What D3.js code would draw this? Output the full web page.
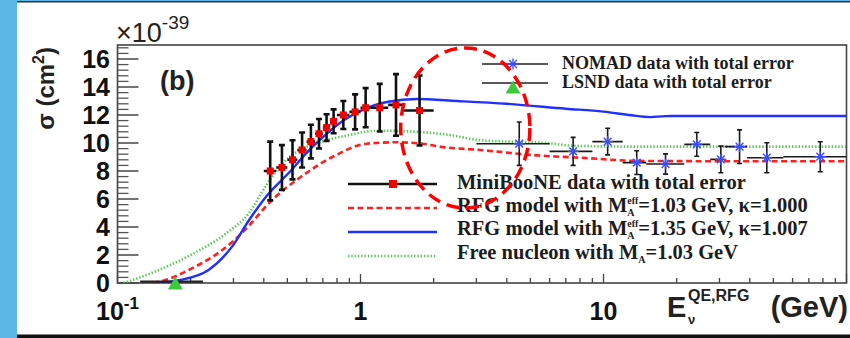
<!DOCTYPE html>
<html>
<head>
<meta charset="utf-8">
<script src="https://cdn.jsdelivr.net/npm/d3@7"></script>
<style>
html, body { margin: 0; padding: 0; background: #fff; }
svg { display: block; }
</style>
</head>
<body>
<div id="chart"></div>
<script>
// cross sections are in units of 1e-39 cm^2, energies in GeV

// MiniBooNE points
const mbEnergy = [0.425, 0.475, 0.525, 0.575, 0.625, 0.675, 0.725, 0.775, 0.85, 0.95, 1.05, 1.2, 1.4, 1.75];
const mbLow    = [0.40, 0.45, 0.50, 0.55, 0.60, 0.65, 0.70, 0.75, 0.80, 0.90, 1.00, 1.10, 1.30, 1.50];
const mbHigh   = [0.45, 0.50, 0.55, 0.60, 0.65, 0.70, 0.75, 0.80, 0.90, 1.00, 1.10, 1.30, 1.50, 2.00];
const mbSigma  = [8.0, 8.25, 8.8, 9.5, 10.1, 10.66, 11.1, 11.55, 12.0, 12.22, 12.52, 12.52, 12.72, 12.32];
const mbError  = [2.1, 1.6, 1.4, 1.25, 1.2, 1.05, 0.95, 0.85, 1.0, 1.25, 1.4, 1.7, 2.2, 2.5];

// NOMAD points
const nomadEnergy = [4.5, 7.5, 10.4, 13.7, 18.0, 24.2, 30.4, 36.3, 47.0, 78.0];
const nomadLow    = [3.0, 6.0, 9.0, 12.0, 15.0, 21.5, 27.5, 31.5, 39.0, 55.0];
const nomadHigh   = [6.0, 9.0, 12.0, 15.0, 21.5, 27.5, 31.5, 39.0, 55.0, 100];
const nomadSigma  = [9.95, 9.4, 10.1, 8.6, 8.5, 9.9, 8.83, 9.74, 8.95, 9.02];
const nomadError  = [1.55, 1.0, 0.95, 0.85, 0.72, 0.85, 0.95, 1.2, 1.07, 1.07];

// LSND point
const lsndEnergy = [0.173];
const lsndLow    = [0.124];
const lsndHigh   = [0.225];
const lsndSigma  = [0.1];

// model curves
const rfg103E = [0.14, 0.16, 0.2, 0.245, 0.3, 0.348, 0.41, 0.45, 0.56, 0.766, 1.06, 1.4, 1.8, 2.12, 3.1, 5.5, 8, 14, 30, 100];
const rfg103S = [0, 0.25, 1.0, 1.85, 3.0, 4.1, 5.5, 6.2, 7.5, 9.0, 9.95, 10.05, 9.95, 9.74, 9.5, 9.1, 8.95, 8.72, 8.7, 8.7];

const rfg135E = [0.145, 0.179, 0.237, 0.296, 0.348, 0.41, 0.52, 0.6, 0.72, 0.85, 1.0, 1.3, 1.7, 2.5, 4, 7, 10, 13, 15.5, 18, 22, 35, 100];
const rfg135S = [0, 0.2, 0.93, 2.6, 4.5, 6.2, 8.07, 9.3, 10.6, 11.6, 12.3, 12.95, 13.14, 13.0, 12.8, 12.45, 12.24, 11.98, 11.85, 11.92, 11.93, 11.93, 11.93];

const freeE = [0.106, 0.148, 0.2, 0.28, 0.348, 0.41, 0.476, 0.55, 0.66, 0.9, 1.16, 1.7, 2.33, 3.1, 6.0, 7.5, 14, 100];
const freeS = [0, 0.93, 2.0, 3.55, 5.0, 7.0, 8.5, 9.4, 9.98, 10.57, 10.88, 10.8, 10.57, 10.2, 9.98, 9.8, 9.74, 9.74];

// axis ticks
const yMajorTicks = [0, 2, 4, 6, 8, 10, 12, 14, 16];
const xLabelTicks = [0.1, 1, 10];

// dashed circle annotation: centre (E, sigma) and extent
const ringCentre = [2.7, 11.07];
const ringE = [1.47, 5.0];
const ringS = [5.36, 16.8];

const width = 850, height = 338;
const sans = "'Liberation Sans', Arial, Helvetica, sans-serif";
const serif = "'Liberation Serif', 'Times New Roman', Times, serif";

const svg = d3.select("#chart").append("svg")
    .attr("width", width)
    .attr("height", height);

// page background (slide)
svg.append("rect").attr("width", width).attr("height", height).attr("fill", "#fff");
svg.append("rect").attr("x", 0).attr("y", 0).attr("width", 17).attr("height", height).attr("fill", "#5db7e6");
svg.append("rect").attr("x", 17).attr("y", 0).attr("width", width - 17).attr("height", 1).attr("fill", "#5db7e6");
svg.append("rect").attr("x", 17).attr("y", 1).attr("width", width - 17).attr("height", 1.5).attr("fill", "#333");
svg.append("rect").attr("x", 17).attr("y", 334.5).attr("width", width - 17).attr("height", 3.5).attr("fill", "#111");

const x = d3.scaleLog().domain([0.1, 100]).range([117.5, 846.5]);
const y = d3.scaleLinear().domain([0, 17]).range([283, 45]);

const plot = svg.append("g");

// clip to frame
svg.append("defs").append("clipPath").attr("id", "frame")
    .append("rect")
    .attr("x", x.range()[0]).attr("y", y.range()[1])
    .attr("width", x.range()[1] - x.range()[0])
    .attr("height", y.range()[0] - y.range()[1]);

// ticks on left axis (pointing inwards)
const yMinor = d3.range(0, 17.01, 0.4).filter(v => Math.abs(v / 2 - Math.round(v / 2)) > 1e-6);
plot.append("g").selectAll("line").data(yMinor).join("line")
    .attr("x1", x.range()[0]).attr("x2", x.range()[0] + 11)
    .attr("y1", d => y(d)).attr("y2", d => y(d))
    .attr("stroke", "#555").attr("stroke-width", 1.3);
plot.append("g").selectAll("line").data(yMajorTicks).join("line")
    .attr("x1", x.range()[0]).attr("x2", x.range()[0] + 21)
    .attr("y1", d => y(d)).attr("y2", d => y(d))
    .attr("stroke", "#444").attr("stroke-width", 1.5);

// ticks on bottom axis
const xTicks = [];
[0.1, 1, 10].forEach(dec => d3.range(1, 10).forEach(m => xTicks.push({ v: dec * m, major: m === 1 })));
xTicks.push({ v: 100, major: true });
plot.append("g").selectAll("line").data(xTicks).join("line")
    .attr("x1", d => x(d.v)).attr("x2", d => x(d.v))
    .attr("y1", y(0)).attr("y2", d => y(0) - (d.major ? 9 : 5))
    .attr("stroke", "#444").attr("stroke-width", 1.3);

// frame
plot.append("rect")
    .attr("x", x.range()[0]).attr("y", y.range()[1])
    .attr("width", x.range()[1] - x.range()[0])
    .attr("height", y.range()[0] - y.range()[1])
    .attr("fill", "none").attr("stroke", "#444").attr("stroke-width", 1.6);

// tick labels
plot.append("g").selectAll("text").data(yMajorTicks).join("text")
    .attr("x", 110).attr("y", d => y(d)).attr("dy", "0.36em")
    .attr("text-anchor", "end")
    .attr("font-family", sans).attr("font-weight", "bold").attr("font-size", 25)
    .attr("fill", "#111")
    .text(d => d);

const xl = plot.append("g").selectAll("text").data(xLabelTicks).join("text")
    .attr("x", d => x(d)).attr("y", 320)
    .attr("text-anchor", "middle")
    .attr("font-family", sans).attr("font-weight", "bold").attr("font-size", 25)
    .attr("fill", "#111");
xl.each(function (d) {
    const t = d3.select(this);
    if (d < 1) {
        t.append("tspan").text("10");
        t.append("tspan").attr("dy", -11).attr("font-size", 17).text("-1");
    } else {
        t.text(d3.format("d")(d));
    }
});

// x10^-39 exponent label
const ex = plot.append("text").attr("x", 116).attr("y", 42)
    .attr("font-family", sans).attr("font-size", 27).attr("fill", "#222");
ex.append("tspan").text("\u00d710");
ex.append("tspan").attr("dy", -13).attr("font-size", 19).text("-39");

// y title
const yt = plot.append("text")
    .attr("transform", "translate(54,47) rotate(-90)")
    .attr("text-anchor", "end")
    .attr("font-family", sans).attr("font-weight", "bold").attr("font-size", 24)
    .attr("fill", "#222");
yt.append("tspan").text("\u03c3 (cm");
yt.append("tspan").attr("dy", -10).attr("font-size", 16).text("2");
yt.append("tspan").attr("dy", 10).text(")");

// x title
const xt = plot.append("g").attr("font-family", sans).attr("font-weight", "bold").attr("fill", "#222");
xt.append("text").attr("x", 667).attr("y", 317).attr("font-size", 29).text("E");
xt.append("text").attr("x", 688).attr("y", 301).attr("font-size", 16).text("QE,RFG");
xt.append("text").attr("x", 688).attr("y", 324).attr("font-size", 13).text("\u03bd");
xt.append("text").attr("x", 848).attr("y", 317).attr("font-size", 29).attr("text-anchor", "end").text("(GeV)");

// (b)
plot.append("text").attr("x", 160).attr("y", 90)
    .attr("font-family", sans).attr("font-weight", "bold").attr("font-size", 27)
    .attr("fill", "#222").text("(b)");

// curves
const curves = plot.append("g").attr("clip-path", "url(#frame)");
const line = d3.line().x(d => x(d[0])).y(d => y(d[1])).curve(d3.curveMonotoneX);
const zip = (a, b) => a.map((v, i) => [v, b[i]]);

curves.append("path").datum(zip(freeE, freeS)).attr("d", line)
    .attr("fill", "none").attr("stroke", "#55c855").attr("stroke-width", 2.6)
    .attr("stroke-dasharray", "1.4 1.9");
curves.append("path").datum(zip(rfg103E, rfg103S)).attr("d", line)
    .attr("fill", "none").attr("stroke", "#ff2020").attr("stroke-width", 2.6)
    .attr("stroke-dasharray", "6 3.5");
curves.append("path").datum(zip(rfg135E, rfg135S)).attr("d", line)
    .attr("fill", "none").attr("stroke", "#2030ff").attr("stroke-width", 2.4);

// helper: error bar with caps
function errorBars(g, E, lo, hi, S, err, style) {
    const data = E.map((e, i) => ({ e, lo: lo[i], hi: hi[i], s: S[i], err: err ? err[i] : 0 }));
    const grp = g.append("g").attr("stroke", style.color).attr("stroke-width", style.width);
    grp.selectAll(".h").data(data).join("line").attr("class", "h")
        .attr("x1", d => x(d.lo)).attr("x2", d => x(d.hi))
        .attr("y1", d => y(d.s)).attr("y2", d => y(d.s));
    if (err) {
        grp.selectAll(".v").data(data).join("line").attr("class", "v")
            .attr("x1", d => x(d.e)).attr("x2", d => x(d.e))
            .attr("y1", d => y(d.s - d.err)).attr("y2", d => y(d.s + d.err));
        grp.selectAll(".ct").data(data).join("line").attr("class", "ct")
            .attr("x1", d => x(d.e) - style.cap).attr("x2", d => x(d.e) + style.cap)
            .attr("y1", d => y(d.s + d.err)).attr("y2", d => y(d.s + d.err));
        grp.selectAll(".cb").data(data).join("line").attr("class", "cb")
            .attr("x1", d => x(d.e) - style.cap).attr("x2", d => x(d.e) + style.cap)
            .attr("y1", d => y(d.s - d.err)).attr("y2", d => y(d.s - d.err));
    }
    return data;
}

function asterisk(g, cx, cy, r, color) {
    const a = g.append("g").attr("stroke", color).attr("stroke-width", 1.4);
    [0, 45, 90, 135].forEach(ang => {
        const rad = ang * Math.PI / 180;
        a.append("line")
            .attr("x1", cx - r * Math.cos(rad)).attr("y1", cy - r * Math.sin(rad))
            .attr("x2", cx + r * Math.cos(rad)).attr("y2", cy + r * Math.sin(rad));
    });
}

function triangle(g, cx, cy, w, h, color) {
    g.append("path")
        .attr("d", `M${cx},${cy - h / 2}L${cx + w / 2},${cy + h / 2}L${cx - w / 2},${cy + h / 2}Z`)
        .attr("fill", color);
}

const marks = plot.append("g").attr("clip-path", "url(#frame)");

// NOMAD
const nd = errorBars(marks, nomadEnergy, nomadLow, nomadHigh, nomadSigma, nomadError, { color: "#1a1a1a", width: 1.6, cap: 2.5 });
nd.forEach(d => asterisk(marks, x(d.e), y(d.s), 5.5, "#3a4cff"));

// LSND
const ld = errorBars(plot, lsndEnergy, lsndLow, lsndHigh, lsndSigma, null, { color: "#222", width: 2.4, cap: 0 });
ld.forEach(d => triangle(plot, x(d.e), y(d.s) + 1.5, 15, 13, "#3ec83e"));

// MiniBooNE
const md = errorBars(marks, mbEnergy, mbLow, mbHigh, mbSigma, mbError, { color: "#111", width: 2.6, cap: 3 });
marks.append("g").selectAll("rect").data(md).join("rect")
    .attr("x", d => x(d.e) - 3.5).attr("y", d => y(d.s) - 3.5)
    .attr("width", 7).attr("height", 7)
    .attr("fill", "#f00000");

// legend text with M_A (optionally M_A^eff) written in one text element
function legendText(g, x0, y0, head, tail, withEff) {
    const t = g.append("text").attr("x", x0).attr("y", y0).attr("font-size", 20.5);
    t.append("tspan").text(head);
    if (!tail) return;
    let ew = 0;
    if (withEff) {
        const e = t.append("tspan").attr("dy", -8).attr("font-size", 10).text("eff");
        ew = e.node().getComputedTextLength();
    }
    const a = t.append("tspan").attr("dx", -ew).attr("dy", withEff ? 11.5 : 3.5)
        .attr("font-size", 10).text("A");
    const aw = a.node().getComputedTextLength();
    t.append("tspan").attr("dx", Math.max(0, ew - aw)).attr("dy", -3.5).text(tail);
}

// upper legend
const leg1 = plot.append("g").attr("font-family", serif).attr("font-weight", "bold").attr("fill", "#1c1c1c");
leg1.append("line").attr("x1", 482).attr("x2", 548).attr("y1", 64).attr("y2", 64).attr("stroke", "#222").attr("stroke-width", 1.5);
asterisk(leg1, 513, 64, 5.5, "#3a4cff");
leg1.append("line").attr("x1", 482).attr("x2", 548).attr("y1", 83).attr("y2", 83).attr("stroke", "#222").attr("stroke-width", 1.5);
triangle(leg1, 513, 87, 15, 13, "#3ec83e");
leg1.append("text").attr("x", 562).attr("y", 69).attr("font-size", 18).text("NOMAD data with total error");
leg1.append("text").attr("x", 562).attr("y", 88).attr("font-size", 18).text("LSND data with total error");

// lower legend
const leg2 = plot.append("g").attr("font-family", serif).attr("font-weight", "bold").attr("fill", "#1c1c1c");
leg2.append("line").attr("x1", 348).attr("x2", 437).attr("y1", 184).attr("y2", 184).attr("stroke", "#111").attr("stroke-width", 2.4);
leg2.append("rect").attr("x", 389).attr("y", 180).attr("width", 8).attr("height", 8).attr("fill", "#f00000");
leg2.append("line").attr("x1", 348).attr("x2", 437).attr("y1", 208).attr("y2", 208).attr("stroke", "#ff2020").attr("stroke-width", 2.6).attr("stroke-dasharray", "6 3.5");
leg2.append("line").attr("x1", 348).attr("x2", 437).attr("y1", 232).attr("y2", 232).attr("stroke", "#2030ff").attr("stroke-width", 2.6);
leg2.append("line").attr("x1", 348).attr("x2", 437).attr("y1", 256).attr("y2", 256).attr("stroke", "#55c855").attr("stroke-width", 2.6).attr("stroke-dasharray", "1.4 1.9");

legendText(leg2, 457, 189, "MiniBooNE data with total error");
legendText(leg2, 457, 212, "RFG model with M", "=1.03 GeV, \u03ba=1.000", true);
legendText(leg2, 457, 235, "RFG model with M", "=1.35 GeV, \u03ba=1.007", true);
legendText(leg2, 457, 259, "Free nucleon with M", "=1.03 GeV", false);

// dashed ring annotation
plot.append("ellipse")
    .attr("cx", x(ringCentre[0])).attr("cy", y(ringCentre[1]))
    .attr("rx", (x(ringE[1]) - x(ringE[0])) / 2)
    .attr("ry", (y(ringS[0]) - y(ringS[1])) / 2)
    .attr("fill", "none").attr("stroke", "#ff0000").attr("stroke-width", 3.5)
    .attr("stroke-dasharray", "13 7");
</script>
</body>
</html>
